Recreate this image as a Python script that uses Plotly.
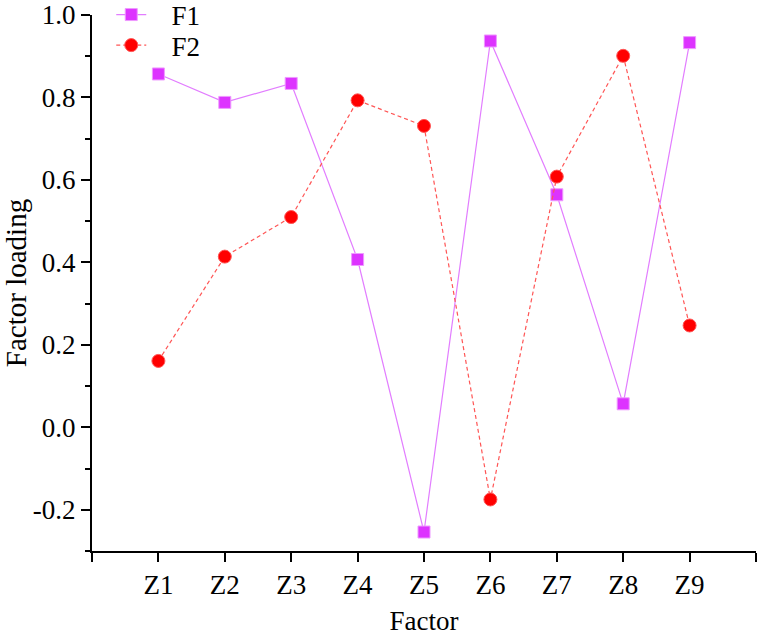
import plotly.graph_objects as go

categories = ["Z1", "Z2", "Z3", "Z4", "Z5", "Z6", "Z7", "Z8", "Z9"]
x_pos = [1, 2, 3, 4, 5, 6, 7, 8, 9]
f1_values = [0.857, 0.788, 0.834, 0.407, -0.254, 0.937, 0.564, 0.057, 0.933]
f2_values = [0.161, 0.414, 0.510, 0.793, 0.731, -0.175, 0.608, 0.901, 0.247]
y_tick_vals = [-0.2, 0.0, 0.2, 0.4, 0.6, 0.8, 1.0]
y_tick_text = ["-0.2", "0.0", "0.2", "0.4", "0.6", "0.8", "1.0"]
y_minor_vals = [-0.3, -0.1, 0.1, 0.3, 0.5, 0.7, 0.9]
x_tick_vals = [0, 1, 2, 3, 4, 5, 6, 7, 8, 9, 10]
x_tick_text = [""] + categories + [""]

FONT = "Liberation Serif"
FS = 27
PAD = "\u00a0\u00a0\u00a0"

fig = go.Figure()
fig.add_trace(go.Scatter(
    x=x_pos, y=f1_values, name=PAD + "F1", mode="lines+markers", legend="legend",
    line=dict(color="#E27DFF", width=1.2),
    marker=dict(symbol="square", size=12, color="#DD33FF",
                line=dict(color="#EE99FF", width=1)),
))
fig.add_trace(go.Scatter(
    x=x_pos, y=f2_values, name=PAD + "F2", mode="lines+markers", legend="legend2",
    line=dict(color="#FF5555", width=1.2, dash="4px,3px"),
    marker=dict(symbol="circle", size=13, color="#FF0000",
                line=dict(color="#FF5555", width=1)),
))

legend_common = dict(xanchor="left", yanchor="middle", bgcolor="rgba(0,0,0,0)",
                     font=dict(size=FS, family=FONT, color="black"))

fig.update_layout(
    width=757, height=636,
    margin=dict(l=92, r=1, t=15, b=85, autoexpand=False),
    paper_bgcolor="white", plot_bgcolor="white",
    font=dict(family=FONT, size=FS, color="black"),
    showlegend=True,
    legend=dict(x=0.029, y=1.0, **legend_common),
    legend2=dict(x=0.029, y=0.943, **legend_common),
    xaxis=dict(
        range=[0, 10], tickmode="array", tickvals=x_tick_vals, ticktext=x_tick_text,
        showline=True, linecolor="black", linewidth=2,
        ticks="outside", ticklen=9, tickwidth=2, tickcolor="black",
        showgrid=False, zeroline=False, automargin=False,
        title=dict(text="Factor", font=dict(size=FS, family=FONT), standoff=12),
        tickfont=dict(size=FS, family=FONT),
    ),
    yaxis=dict(
        range=[-0.3, 1.0], tickmode="array", tickvals=y_tick_vals, ticktext=y_tick_text,
        showline=True, linecolor="black", linewidth=2,
        ticks="outside", ticklen=9, tickwidth=2, tickcolor="black",
        minor=dict(tickmode="array", tickvals=y_minor_vals,
                   ticks="outside", ticklen=5, tickwidth=2, tickcolor="black"),
        showgrid=False, zeroline=False, automargin=False,
        title=dict(text="Factor loading", font=dict(size=29, family=FONT), standoff=6),
        tickfont=dict(size=FS, family=FONT),
    ),
)

fig.write_html("out.html")
